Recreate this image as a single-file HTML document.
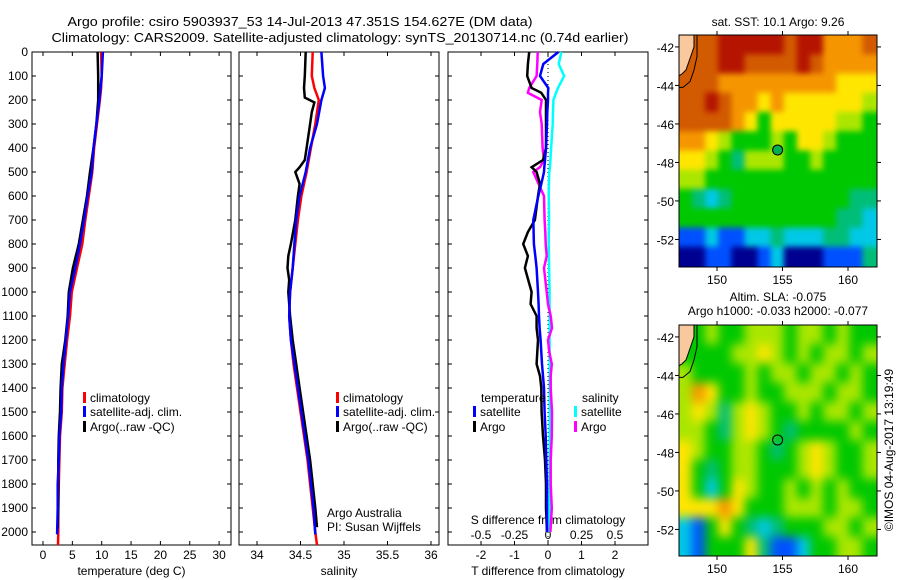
<!DOCTYPE html>
<html><head><meta charset="utf-8">
<style>
html,body{margin:0;padding:0;background:#fff;}
svg{display:block;font-family:"Liberation Sans",sans-serif;}
text{font-size:12px;fill:#000;}
</style></head>
<body>
<svg id="fig" width="900" height="580" viewBox="0 0 900 580" xmlns="http://www.w3.org/2000/svg">
<defs>
<filter id="blur3" x="0" y="0" width="1" height="1" color-interpolation-filters="sRGB">
<feGaussianBlur stdDeviation="3" edgeMode="duplicate"/>
<feComponentTransfer><feFuncA type="table" tableValues="1 1"/></feComponentTransfer>
</filter>
<filter id="blur5" x="0" y="0" width="1" height="1" color-interpolation-filters="sRGB">
<feGaussianBlur stdDeviation="5" edgeMode="duplicate"/>
<feComponentTransfer><feFuncA type="table" tableValues="1 1"/></feComponentTransfer>
</filter>
</defs>
<rect width="900" height="580" fill="#fff"/>
<text x="300" y="26" text-anchor="middle" style="font-size:13px" textLength="465" lengthAdjust="spacingAndGlyphs">Argo profile: csiro 5903937_53 14-Jul-2013 47.351S 154.627E (DM data)</text>
<text x="340" y="42" text-anchor="middle" style="font-size:13px" textLength="577" lengthAdjust="spacingAndGlyphs">Climatology: CARS2009. Satellite-adjusted climatology: synTS_20130714.nc (0.74d earlier)</text>
<g id="layer"></g>
<text x="778" y="26" text-anchor="middle">sat. SST: 10.1  Argo: 9.26</text>
<text x="778" y="301" text-anchor="middle">Altim. SLA: -0.075</text>
<text x="778" y="315" text-anchor="middle">Argo h1000: -0.033 h2000: -0.077</text>
<text transform="translate(893,450) rotate(-90)" text-anchor="middle">©IMOS 04-Aug-2017 13:19:49</text>
<text x="327" y="517">Argo Australia</text>
<text x="327" y="531">PI: Susan Wijffels</text>
</svg>
<script>
// ---------- data ----------
const depthTicks = [0,100,200,300,400,500,600,700,800,900,1000,1100,1200,1300,1400,1500,1600,1700,1800,1900,2000];
const tempTicks = [0,5,10,15,20,25,30];
const salTicks = [34,34.5,35,35.5,36];
const salTickLabels = ["34","34.5","35","35.5","36"];
const tdiffTicks = [-2,-1,0,1,2];
const sdiffTicks = [-0.5,-0.25,0,0.25,0.5];
const sdiffTickLabels = ["-0.5","-0.25","0","0.25","0.5"];
const lonTicks = [150,155,160];
const latTicks = [-42,-44,-46,-48,-50,-52];

const depthProf = [0,100,150,200,300,400,500,600,700,800,900,1000,1100,1200,1300,1400,1500,1600,1700,1800,1900,2000];
const tempClim = [9.9,10.0,9.9,9.7,9.2,8.7,8.4,7.8,7.2,6.7,5.8,4.9,4.6,4.1,3.7,3.3,3.2,2.9,2.8,2.7,2.6,2.6];
const tempSat  = [10.2,10.0,9.8,9.6,9.1,8.6,8.3,7.6,7.0,6.3,5.5,4.6,4.3,3.9,3.5,3.2,3.1,2.8,2.7,2.5,2.5,2.4];
const tempArgo = [9.3,9.4,9.4,9.4,9.1,8.6,8.0,7.5,6.8,6.1,5.1,4.4,4.2,3.8,3.2,3.0,2.9,2.7,2.6,2.6,2.6,2.5];
const salClim = [34.64,34.63,34.66,34.71,34.67,34.62,34.57,34.51,34.47,34.44,34.41,34.38,34.37,34.39,34.42,34.46,34.50,34.54,34.58,34.61,34.64,34.67];
const salSat  = [34.74,34.76,34.78,34.74,34.69,34.61,34.56,34.49,34.45,34.43,34.41,34.38,34.37,34.39,34.43,34.47,34.51,34.55,34.59,34.62,34.65,34.67];
const depthSalArgo = [0,100,150,190,210,250,300,400,450,480,500,550,600,700,800,850,900,950,1000,1100,1200,1300,1400,1500,1600,1700,1800,1900,1980];
const salArgo = [34.56,34.55,34.54,34.55,34.66,34.63,34.61,34.57,34.55,34.49,34.44,34.49,34.47,34.44,34.39,34.36,34.35,34.37,34.36,34.38,34.41,34.45,34.49,34.53,34.57,34.61,34.64,34.67,34.69];

const depthDiff = [0,50,100,150,170,200,250,300,400,450,480,500,550,600,700,750,800,850,900,1000,1050,1100,1150,1200,1250,1300,1350,1400,1500,1600,1700,1800,1900,2000];
const tdiffArgo = [-0.56,-0.6,-0.62,-0.49,-0.2,-0.06,-0.06,-0.06,-0.06,-0.15,-0.49,-0.34,-0.24,-0.3,-0.39,-0.6,-0.74,-0.6,-0.69,-0.49,-0.52,-0.34,-0.34,-0.3,-0.32,-0.34,-0.24,-0.2,-0.19,-0.15,-0.09,-0.06,-0.06,-0.03];
const tdiffSat  = [0.31,-0.14,-0.24,0.01,0.0,0.0,-0.02,-0.03,-0.06,-0.09,-0.11,-0.12,-0.2,-0.29,-0.44,-0.43,-0.42,-0.38,-0.34,-0.3,-0.28,-0.27,-0.25,-0.22,-0.2,-0.18,-0.15,-0.12,-0.1,-0.07,-0.05,-0.03,-0.03,-0.03];
const sdiffArgo = [-0.077,-0.08,-0.085,-0.14,-0.15,-0.047,-0.06,-0.047,-0.04,-0.03,-0.06,-0.11,-0.07,-0.03,-0.025,-0.02,-0.017,-0.01,-0.03,-0.01,0.0,0.02,0.03,0.0,0.01,0.028,0.02,0.02,0.03,0.028,0.02,0.02,0.028,0.018];
const sdiffSat  = [0.10,0.08,0.12,0.075,0.06,0.04,0.037,0.035,0.023,0.018,0.014,0.01,0.007,0.005,0.008,0.006,0.005,0.007,0.008,0.012,0.012,0.012,0.012,0.012,0.012,0.012,0.013,0.013,0.013,0.012,0.012,0.011,0.01,0.01];

// map grids: rows from lat -41.4 southward (1 deg), cols from lon 147.1 eastward (1 deg); -1 = land
const sstLevels = [
[-1,8,8,9,9,9,9,9,8,9,9,7,7,7,8],
[-1,8,8,9,9,8,8,8,8,9,8,7,7,7,7],
[8,8,8,7,7,7,7,7,7,7,7,7,6,6,6],
[8,8,9,8,7,7,6,7,6,6,6,6,6,6,5],
[8,8,8,8,7,6,4,6,6,6,6,6,5,5,4],
[7,7,6,5,4,4,4,5,4,6,6,5,4,4,4],
[6,6,5,4,3,5,5,5,4,4,5,4,4,4,4],
[5,5,4,4,4,4,4,4,4,4,4,4,4,4,4],
[4,3,2,3,4,4,4,4,4,4,4,4,4,3,3],
[4,4,4,4,4,4,4,4,4,4,4,4,3,3,2],
[1,1,2,1,1,2,2,3,2,2,2,3,3,2,2],
[0,0,1,1,0,0,1,2,0,0,0,1,1,1,3]];
const slaLevels = [
[-1,4,5,4,4,5,5,5,4,5,5,4,5,4,4],
[-1,4,4,4,5,5,6,5,4,5,4,5,5,4,5],
[5,4,4,4,4,5,4,5,5,4,5,5,4,5,4],
[5,7,6,4,4,5,4,4,5,5,5,4,5,5,4],
[5,6,5,3,5,6,5,4,4,5,4,5,5,4,5],
[5,5,4,3,5,6,5,4,3,4,4,4,4,5,4],
[6,5,4,4,5,5,4,3,4,5,6,5,4,4,5],
[6,4,3,4,5,5,4,4,4,5,6,5,4,4,5],
[6,4,2,4,6,5,4,4,5,4,5,4,5,4,4],
[6,6,6,7,6,4,4,4,5,5,5,4,5,5,4],
[2,1,4,6,4,3,2,3,4,4,4,5,5,4,5],
[2,1,4,4,4,6,3,1,1,2,4,4,5,5,4]];
const argoLon = 154.627, argoLat = -47.351;

// ---------- drawing ----------
const NS="http://www.w3.org/2000/svg";
const layer=document.getElementById('layer');
function el(tag,attrs,parent){const e=document.createElementNS(NS,tag);for(const k in attrs)e.setAttribute(k,attrs[k]);(parent||layer).appendChild(e);return e;}
function txt(str,x,y,anchor,parent){const t=el('text',{x:x,y:y,'text-anchor':anchor||'start'},parent);t.textContent=str;return t;}

const TOP=52,BOT=545;
const yD=d=>52+d*0.24;
const panels=[
 {name:'temperature',x0:32,x1:231,f:v=>43+v*5.87},
 {name:'salinity',x0:239,x1:439,f:v=>257+(v-34)*87},
 {name:'difference',x0:448,x1:648,f:v=>548+v*33.5}];
const xS=v=>548+v*134;

function line(xs,ys,color,name,w){
  const pts=xs.map((x,i)=>x.toFixed(1)+','+ys[i].toFixed(1)).join(' ');
  const p=el('polyline',{points:pts,fill:'none',stroke:color,'stroke-width':w||2.5,'stroke-linejoin':'miter'});
  
  
}

panels.forEach((p,pi)=>{
  const g=el('g',{});
  
  
  el('rect',{x:p.x0,y:TOP,width:p.x1-p.x0,height:BOT-TOP,fill:'none',stroke:'#000','stroke-width':1},g);
  depthTicks.forEach(d=>{
    el('line',{x1:p.x0,x2:p.x0+4,y1:yD(d),y2:yD(d),stroke:'#000'},g);
    el('line',{x1:p.x1-4,x2:p.x1,y1:yD(d),y2:yD(d),stroke:'#000'},g);
  });
});
depthTicks.forEach(d=>{
  const t=txt(String(d),28,yD(d)+4,'end');
  
  
});
function xticks(p,ticks,labels,title){
  ticks.forEach((v,i)=>{
    const x=p.f(v);
    el('line',{x1:x,x2:x,y1:TOP,y2:TOP+4,stroke:'#000'});
    el('line',{x1:x,x2:x,y1:BOT-4,y2:BOT,stroke:'#000'});
    const t=txt(labels[i],x,559,'middle');
    
    
  });
  const tt=txt(title,(p.x0+p.x1)/2,575,'middle');
  
  
}
xticks(panels[0],tempTicks,tempTicks.map(String),'temperature (deg C)');
xticks(panels[1],salTicks,salTickLabels,'salinity');
xticks(panels[2],tdiffTicks,tdiffTicks.map(String),'T difference from climatology');
sdiffTicks.forEach((v,i)=>{
  const t=txt(sdiffTickLabels[i],xS(v),539,'middle');
  
  
});
{const t=txt('S difference from climatology',548,524,'middle');
 
 }
{const z=el('line',{x1:548,x2:548,y1:TOP,y2:BOT,stroke:'#000','stroke-dasharray':'1,3'});
 
 }

const yP=depthProf.map(yD);
line(tempClim.map(panels[0].f).concat([panels[0].f(2.55)]),yP.concat([yD(2054)]),'#f00','temp-climatology-line');
line(tempArgo.map(panels[0].f),yP.map((y,i)=>i==yP.length-1?yD(1985):y),'#000','temp-argo-line');
line(tempSat.map(panels[0].f),yP.map((y,i)=>i==yP.length-1?yD(2010):y),'#00f','temp-satellite-line');
line(salClim.map(panels[1].f).concat([panels[1].f(34.69)]),yP.concat([yD(2054)]),'#f00','sal-climatology-line');
line(salArgo.map(panels[1].f),depthSalArgo.map(yD),'#000','sal-argo-line');
line(salSat.map(panels[1].f),yP.map((y,i)=>i==yP.length-1?yD(2010):y),'#00f','sal-satellite-line');
const yDf=depthDiff.map(yD);
line(sdiffSat.map(xS),yDf,'#0ff','sdiff-satellite-line');
line(sdiffArgo.map(xS),yDf,'#f0f','sdiff-argo-line');
line(tdiffArgo.map(panels[2].f),yDf,'#000','tdiff-argo-line');
line(tdiffSat.map(panels[2].f),yDf,'#00f','tdiff-satellite-line');

function legendEntry(x,y,color,label){
  const g=el('g',{});
  
  
  el('rect',{x:x,y:y-10,width:3,height:11,fill:color},g);
  txt(label,x+7,y,'start',g);
}
[[83],[336]].forEach(([x])=>{
  legendEntry(x,402,'#f00','climatology');
  legendEntry(x,416,'#00f','satellite-adj. clim.');
  legendEntry(x,431,'#000','Argo(..raw -QC)');
});
{const t=txt('temperature',481,402);}
{const t=txt('salinity',582,402);}
legendEntry(473,416,'#00f','satellite');
legendEntry(473,431,'#000','Argo');
legendEntry(574,416,'#0ff','satellite');
legendEntry(574,431,'#f0f','Argo');

const palette=['#000090','#0050ff','#00c8e6','#00be78','#00c800','#aae600','#ffe600','#f59600','#d25a00','#b41400'];
const LON0=147.1,LAT0=-41.38;
const mx=lon=>679+(lon-LON0)*13.1;
function drawMap(levels,top,bottom,name,filled,filt){
  const latPx=19.25;
  const my=lat=>top+(LAT0-lat)*latPx;
  const g=el('g',{});
  
  
  const clip='clip-'+name;
  const cp=el('clipPath',{id:clip},g);
  el('rect',{x:679,y:top,width:198,height:bottom-top},cp);
  const cg=el('g',{'clip-path':'url(#'+clip+')'},g);
  const bg=el('g',{filter:'url(#'+filt+')'},cg);
  levels.forEach((row,r)=>row.forEach((v,c)=>{
    const x0=mx(LON0+c),x1=mx(LON0+c+1),y0=my(LAT0-r),y1=my(LAT0-r-1);
    const rc=el('rect',{x:x0,y:y0,width:x1-x0+0.6,height:y1-y0+0.6,fill:v<0?(row[c+1]>=0?palette[row[c+1]]:'#d25a00'):palette[v]},bg);
    
    
  }));
  el('polygon',{points:`679,${top} 694,${top} 694,${my(-42)} 690,${my(-42.6)} 686,${my(-43.2)} 682,${my(-43.4)} 679,${my(-43.5)}`,fill:'#f9c89c',stroke:'#000','stroke-width':1},cg);
  el('polyline',{points:`697,${top} 697,${my(-42.5)} 694,${my(-43.2)} 690,${my(-43.8)} 683,${my(-44.1)} 679,${my(-44.1)}`,fill:'none',stroke:'#000','stroke-width':1},cg);
  el('rect',{x:679,y:top,width:198,height:bottom-top,fill:'none',stroke:'#000'},g);
  lonTicks.forEach(l=>{
    el('line',{x1:mx(l),x2:mx(l),y1:top-4,y2:top,stroke:'#000'},g);
    el('line',{x1:mx(l),x2:mx(l),y1:bottom,y2:bottom+4,stroke:'#000'},g);
    const t=txt(String(l),mx(l),bottom+17,'middle',g);
    
    
  });
  latTicks.forEach(l=>{
    el('line',{x1:675,x2:679,y1:my(l),y2:my(l),stroke:'#000'},g);
    el('line',{x1:877,x2:881,y1:my(l),y2:my(l),stroke:'#000'},g);
    const t=txt(String(l),674,my(l)+5,'end',g);
    
    
  });
  const m=el('circle',{cx:mx(argoLon),cy:my(argoLat),r:5,fill:filled?'#00b050':'none',stroke:'#000','stroke-width':1},g);
  
  
}
drawMap(sstLevels,35,267,'sst-map',true,'blur3');
drawMap(slaLevels,325,556,'sla-map',false,'blur5');
</script>
</body></html>
